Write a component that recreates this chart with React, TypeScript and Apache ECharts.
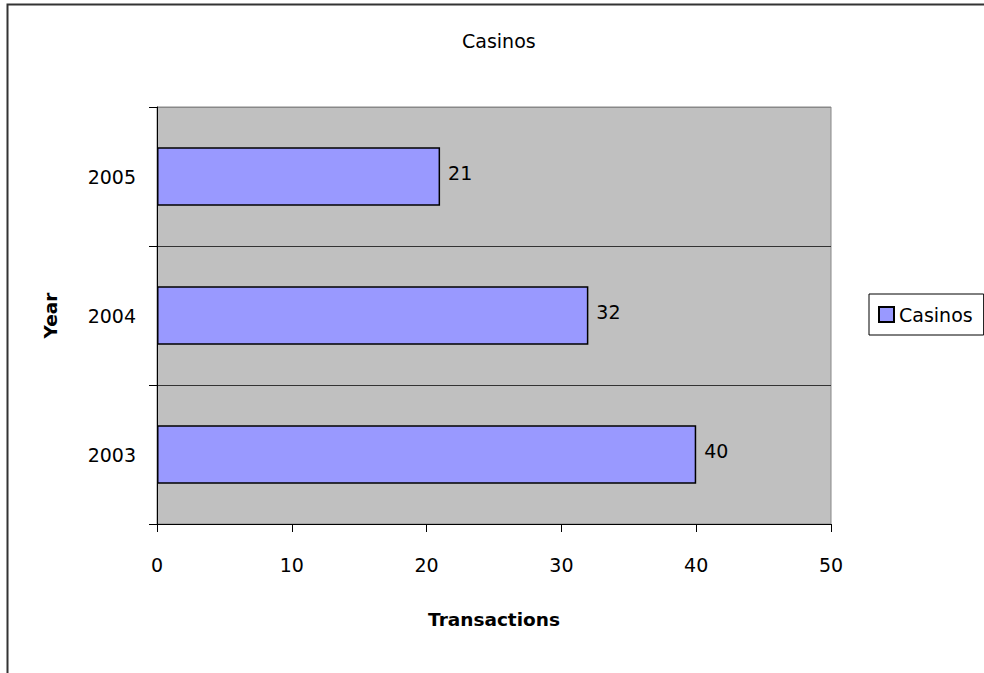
import React, { useEffect, useRef } from "react";
import * as echarts from "echarts";

// Casino transactions per year
const years: string[] = ["2003", "2004", "2005"];
const transactions: number[] = [40, 32, 21];
const seriesName = "Casinos";
const chartTitle = "Casinos";
const xAxisName = "Transactions";
const yAxisName = "Year";

const FONT = "'DejaVu Sans', Verdana, sans-serif";

export default function App() {
  const ref = useRef<HTMLDivElement>(null);

  useEffect(() => {
    if (!ref.current) return;
    const chart = echarts.init(ref.current, undefined, { renderer: "svg" });
    chart.setOption({
      animation: false,
      backgroundColor: "#ffffff",
      textStyle: { fontFamily: FONT },
      title: {
        text: chartTitle,
        left: 462,
        top: 31,
        padding: 0,
        textStyle: { fontFamily: FONT, fontSize: 19, fontWeight: "normal", color: "#000" },
      },
      graphic: [
        {
          type: "rect",
          shape: { x: 7.5, y: 4.5, width: 1100, height: 800 },
          style: { fill: "none", stroke: "#333", lineWidth: 2 },
          silent: true,
          z: 100,
        },
      ],
      legend: {
        orient: "vertical",
        left: 869,
        top: 294,
        padding: [11, 11, 11, 9],
        itemWidth: 15,
        itemHeight: 15,
        icon: "rect",
        borderColor: "#000",
        borderWidth: 1,
        borderRadius: 0,
        backgroundColor: "#fff",
        textStyle: { fontFamily: FONT, fontSize: 19, color: "#000" },
        data: [seriesName],
      },
      grid: {
        left: 157,
        top: 107,
        width: 674,
        height: 417,
        show: true,
        backgroundColor: "#C0C0C0",
        borderColor: "#888",
        borderWidth: 1,
      },
      xAxis: {
        type: "value",
        min: 0,
        max: 50,
        interval: 10,
        name: xAxisName,
        nameLocation: "middle",
        nameGap: 86,
        nameTextStyle: { fontFamily: FONT, fontSize: 18.5, fontWeight: "bold", color: "#000" },
        axisLine: { show: true, lineStyle: { color: "#000", width: 1 } },
        axisTick: { show: true, length: 8, lineStyle: { color: "#000" } },
        axisLabel: { margin: 31, fontFamily: FONT, fontSize: 19, color: "#000" },
        splitLine: { show: false },
      },
      yAxis: {
        type: "category",
        data: years,
        name: yAxisName,
        nameLocation: "middle",
        nameGap: 97,
        nameTextStyle: { fontFamily: FONT, fontSize: 18.5, fontWeight: "bold", color: "#000" },
        axisLine: { show: true, lineStyle: { color: "#000", width: 1 } },
        axisTick: { show: true, length: 8, lineStyle: { color: "#000" } },
        axisLabel: {
          margin: 21,
          fontFamily: FONT,
          fontSize: 19,
          color: "#000",
          padding: [0, 0, 8, 0],
        },
        splitLine: {
          show: true,
          lineStyle: { color: ["#000", "#333", "#333", "#888"], width: 1 },
        },
      },
      series: [
        {
          name: seriesName,
          type: "bar",
          data: transactions,
          barWidth: "42%",
          itemStyle: { color: "#9999FF", borderColor: "#000", borderWidth: 1.5 },
          label: {
            show: true,
            position: "right",
            distance: 8,
            offset: [0, -4],
            fontFamily: FONT,
            fontSize: 19,
            color: "#000",
          },
        },
      ],
    });
    return () => chart.dispose();
  }, []);

  return (
    <div
      ref={ref}
      style={{ position: "absolute", left: 0, top: 0, width: 984, height: 673 }}
    />
  );
}
